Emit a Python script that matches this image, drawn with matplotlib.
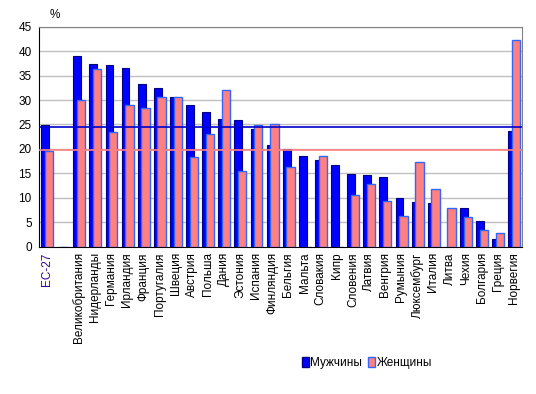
import matplotlib
matplotlib.use("Agg")
import matplotlib.pyplot as plt
from matplotlib.patches import Patch
import numpy as np

plt.rcParams['font.family'] = ['Liberation Sans', 'DejaVu Sans']

categories = ["ЕС-27", "", "Великобритания", "Нидерланды", "Германия", "Ирландия", "Франция",
              "Португалия", "Швеция", "Австрия", "Польша", "Дания", "Эстония", "Испания",
              "Финляндия", "Бельгия", "Мальта", "Словакия", "Кипр", "Словения", "Латвия",
              "Венгрия", "Румыния", "Люксембург", "Италия", "Литва", "Чехия", "Болгария",
              "Греция", "Норвегия"]
men = [24.8, 0, 39.1, 37.3, 37.1, 36.5, 33.2, 32.4, 30.6, 28.9, 27.5, 26.1, 25.9, 24.0,
       20.7, 19.9, 18.5, 17.7, 16.7, 14.9, 14.7, 14.2, 9.9, 9.1, 8.9, 0, 7.9, 5.3, 1.6, 23.6]
women = [19.6, 0, 30.1, 36.3, 23.4, 28.9, 28.3, 30.6, 30.6, 18.3, 23.0, 32.0, 15.4, 24.8,
         25.0, 16.2, 0, 18.5, 0, 10.5, 12.8, 9.3, 6.2, 17.3, 11.9, 7.9, 6.0, 3.4, 2.7, 42.2]
eu_men_line = 24.4
eu_women_line = 19.7
yticks = [0, 5, 10, 15, 20, 25, 30, 35, 40, 45]

fig = plt.figure(figsize=(5.36, 3.94), dpi=100)
ax = fig.add_axes([0.0722, 0.3739, 0.9018, 0.5583])

x = np.arange(len(categories))
ax.set_xlim(-0.5, len(categories) - 0.5)
ax.set_ylim(0, 45)

for yv in yticks[1:]:
    ax.axhline(yv, color='#C0C0C0', lw=1, zorder=0)

ax.bar(x - 0.11, men, width=0.48, color='#0000FF', edgecolor='#000080', lw=0.8, zorder=2)
ax.bar(x + 0.13, women, width=0.52, color='#FF8080', edgecolor='#3366FF', lw=1.0, zorder=3)

ax.axhline(eu_men_line, color='#0000CC', lw=1.2, zorder=4)
ax.axhline(eu_women_line, color='#FF8080', lw=1.2, zorder=4)

ax.set_yticks(yticks)
ax.set_yticklabels([str(v) for v in yticks], fontsize=8.5)
ax.set_xticks(x)
ax.set_xticklabels(categories, rotation=90, fontsize=8.5, va='top', ha='center')
ax.get_xticklabels()[0].set_color('#330099')
ax.tick_params(axis='both', length=0, pad=4)
ax.tick_params(axis='y', pad=5)

for side in ['top', 'right']:
    ax.spines[side].set_color('#808080')
for side in ['left', 'bottom']:
    ax.spines[side].set_color('#000000')

fig.text(55 / 536, 1 - 15 / 394, '%', fontsize=8.5, ha='center', va='center')

handles = [Patch(facecolor='#0000FF', edgecolor='#000080'),
           Patch(facecolor='#FF8080', edgecolor='#3366FF')]
fig.legend(handles, ['Мужчины', 'Женщины'], loc='center', bbox_to_anchor=(367 / 536, 1 - 363 / 394),
           ncol=2, frameon=False, fontsize=8.5, handlelength=0.6, handleheight=0.9,
           handletextpad=0.15, columnspacing=0.5)

fig.savefig('out.png', dpi=100)
